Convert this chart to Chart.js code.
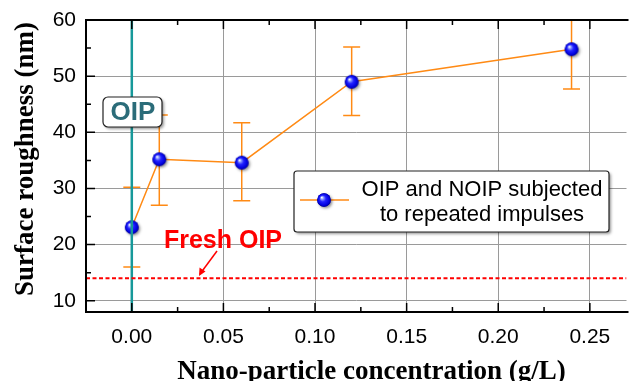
<!DOCTYPE html>
<html>
<head>
<meta charset="utf-8">
<script src="https://cdn.jsdelivr.net/npm/chart.js@4.4.1/dist/chart.umd.min.js"></script>
<style>
  html, body { margin: 0; padding: 0; background: #fff; overflow: hidden; }
  /* the plot runs off the right edge in the original, so the canvas is a bit wider than the window */
  #wrap { width: 630px; height: 381px; overflow: hidden; }
</style>
</head>
<body>
<div id="wrap"><canvas id="roughChart" width="635" height="381"></canvas></div>
<script>
// data
const concentration = [0, 0.015, 0.06, 0.12, 0.24];
const roughness = [23.1, 35.2, 34.6, 49.0, 54.8];
const errUpper = [30.2, 43.1, 41.7, 55.2, 61.9];
const errLower = [16.0, 27.0, 27.8, 43.0, 47.7];
const freshOIP = 14;
const oipX = 0;
const xTicks = [0, 0.05, 0.10, 0.15, 0.20, 0.25];
const yTicks = [10, 20, 30, 40, 50, 60];
const xRange = [-0.025, 0.27];
const yRange = [8, 60];

const ORANGE = '#ff8a14';
const TEAL = '#17999a';
const SANS = '"Liberation Sans", Arial, sans-serif';
const SERIF = '"Liberation Serif", "Times New Roman", serif';

// little blue ball used as the marker
function makeBall() {
  const c = document.createElement('canvas');
  c.width = 22; c.height = 22;
  const g = c.getContext('2d');
  const cx = 11, cy = 11, r = 6.8;
  g.save();
  g.shadowColor = 'rgba(0,0,0,0.45)';
  g.shadowBlur = 3;
  g.shadowOffsetX = 1.5;
  g.shadowOffsetY = 1.5;
  g.beginPath(); g.arc(cx, cy, r, 0, Math.PI * 2);
  g.fillStyle = '#0000c8';
  g.fill();
  g.restore();
  const grad = g.createRadialGradient(cx - 2.3, cy - 2.6, 0.3, cx, cy, r);
  grad.addColorStop(0, '#ffffff');
  grad.addColorStop(0.18, '#8f9dff');
  grad.addColorStop(0.45, '#2222ff');
  grad.addColorStop(0.85, '#0000dd');
  grad.addColorStop(1, '#00008c');
  g.beginPath(); g.arc(cx, cy, r, 0, Math.PI * 2);
  g.fillStyle = grad;
  g.fill();
  return c;
}
const ball = makeBall();

function roundBox(ctx, x, y, w, h, r) {
  ctx.save();
  ctx.shadowColor = 'rgba(0,0,0,0.4)';
  ctx.shadowBlur = 3;
  ctx.shadowOffsetX = 2;
  ctx.shadowOffsetY = 2;
  ctx.beginPath();
  ctx.roundRect(x, y, w, h, r);
  ctx.fillStyle = '#fff';
  ctx.fill();
  ctx.restore();
  ctx.beginPath();
  ctx.roundRect(x, y, w, h, r);
  ctx.strokeStyle = '#222';
  ctx.lineWidth = 1.2;
  ctx.stroke();
}

const decorations = {
  id: 'decorations',
  beforeDatasetsDraw(chart) {
    // error bars
    const { ctx, chartArea: a, scales: { x, y } } = chart;
    ctx.save();
    ctx.beginPath();
    ctx.rect(a.left, a.top, a.right - a.left, a.bottom - a.top);
    ctx.clip();
    ctx.strokeStyle = ORANGE;
    ctx.lineWidth = 1.5;
    concentration.forEach((c, i) => {
      const px = x.getPixelForValue(c);
      const top = y.getPixelForValue(errUpper[i]);
      const bot = y.getPixelForValue(errLower[i]);
      ctx.beginPath();
      ctx.moveTo(px, top); ctx.lineTo(px, bot);
      ctx.moveTo(px - 8.5, top); ctx.lineTo(px + 8.5, top);
      ctx.moveTo(px - 8.5, bot); ctx.lineTo(px + 8.5, bot);
      ctx.stroke();
    });
    ctx.restore();
  },
  afterDraw(chart) {
    const { ctx, chartArea: a, scales: { x, y } } = chart;
    ctx.save();

    // frame: left, bottom, top
    ctx.strokeStyle = '#000';
    ctx.lineWidth = 2;
    ctx.beginPath();
    ctx.moveTo(a.right + 2, a.top); ctx.lineTo(a.left, a.top);
    ctx.lineTo(a.left, a.bottom); ctx.lineTo(a.right + 2, a.bottom);
    ctx.stroke();

    // inward ticks
    ctx.lineWidth = 1.5;
    ctx.beginPath();
    xTicks.forEach((v, i) => {
      const px = x.getPixelForValue(v);
      ctx.moveTo(px, a.bottom); ctx.lineTo(px, a.bottom - 9);
      ctx.moveTo(px, a.top); ctx.lineTo(px, a.top + 9);
      if (i < xTicks.length - 1) {
        const mx = x.getPixelForValue((v + xTicks[i + 1]) / 2);
        ctx.moveTo(mx, a.bottom); ctx.lineTo(mx, a.bottom - 5);
        ctx.moveTo(mx, a.top); ctx.lineTo(mx, a.top + 5);
      }
    });
    yTicks.forEach((v, i) => {
      const py = y.getPixelForValue(v);
      ctx.moveTo(a.left, py); ctx.lineTo(a.left + 9, py);
      if (i < yTicks.length - 1) {
        const my = y.getPixelForValue((v + yTicks[i + 1]) / 2);
        ctx.moveTo(a.left, my); ctx.lineTo(a.left + 5, my);
      }
    });
    ctx.stroke();

    // OIP label box
    roundBox(ctx, 103, 97, 59, 30, 5);
    ctx.fillStyle = '#2b6c79';
    ctx.font = 'bold 26px ' + SANS;
    ctx.textAlign = 'center';
    ctx.textBaseline = 'middle';
    ctx.fillText('OIP', 133, 113);

    // Fresh OIP note + arrow
    ctx.fillStyle = '#ff0000';
    ctx.font = 'bold 25px ' + SANS;
    ctx.textBaseline = 'alphabetic';
    ctx.fillText('Fresh OIP', 223, 248);
    ctx.strokeStyle = '#ff0000';
    ctx.lineWidth = 1.5;
    ctx.beginPath();
    ctx.moveTo(217, 251); ctx.lineTo(200, 274);
    ctx.stroke();
    ctx.beginPath();
    ctx.moveTo(199, 276); ctx.lineTo(199.5, 267.5); ctx.lineTo(205.5, 271.5);
    ctx.closePath();
    ctx.fill();

    // legend
    roundBox(ctx, 294, 171, 315, 61, 3);
    ctx.strokeStyle = ORANGE;
    ctx.lineWidth = 1.5;
    ctx.beginPath();
    ctx.moveTo(300, 200); ctx.lineTo(349, 200);
    ctx.stroke();
    ctx.drawImage(ball, 324 - 11, 200 - 11);
    ctx.fillStyle = '#000';
    ctx.font = '22px ' + SANS;
    ctx.textAlign = 'center';
    ctx.fillText('OIP and NOIP subjected', 482, 196);
    ctx.fillText('to repeated impulses', 482, 221);

    // axis titles
    ctx.font = 'bold 27px ' + SERIF;
    ctx.fillText('Nano-particle concentration (g/L)', 371.5, 379);
    ctx.translate(33, 159);
    ctx.rotate(-Math.PI / 2);
    ctx.fillText('Surface roughness (nm)', 0, 0);

    ctx.restore();
  }
};

const gridStyle = {
  color: '#9a9a9a',
  lineWidth: 1,
  drawTicks: false
};

new Chart(document.getElementById('roughChart'), {
  type: 'line',
  data: {
    datasets: [
      {
        label: 'Fresh OIP',
        data: xRange.map(v => ({ x: v, y: freshOIP })),
        borderColor: '#ff0000',
        borderWidth: 2,
        borderDash: [4, 2.5],
        pointRadius: 0
      },
      {
        label: 'OIP',
        data: yRange.map(v => ({ x: oipX, y: v })),
        borderColor: TEAL,
        borderWidth: 2.5,
        pointRadius: 0
      },
      {
        label: 'OIP and NOIP subjected to repeated impulses',
        data: concentration.map((c, i) => ({ x: c, y: roughness[i] })),
        borderColor: ORANGE,
        borderWidth: 1.5,
        pointStyle: ball,
        pointRadius: 7,
        clip: false
      }
    ]
  },
  options: {
    responsive: false,
    animation: false,
    layout: { padding: { top: 20, right: 0, left: 0, bottom: 0 } },
    plugins: { legend: { display: false }, tooltip: { enabled: false } },
    scales: {
      x: {
        type: 'linear',
        min: xRange[0],
        max: xRange[1],
        afterBuildTicks: s => { s.ticks = xTicks.map(v => ({ value: v })); },
        afterFit: s => { s.height = 69; s.paddingLeft = 0; s.paddingRight = 0; },
        border: { display: false },
        grid: { ...gridStyle },
        ticks: {
          color: '#000',
          font: { family: SANS, size: 21 },
          padding: 13,
          maxRotation: 0,
          callback: v => v.toFixed(2)
        }
      },
      y: {
        min: yRange[0],
        max: yRange[1],
        afterBuildTicks: s => { s.ticks = yTicks.map(v => ({ value: v })); },
        afterFit: s => { s.width = 86; s.paddingTop = 0; s.paddingBottom = 0; },
        border: { display: false },
        grid: gridStyle,
        ticks: {
          color: '#000',
          font: { family: SANS, size: 21 },
          padding: 10
        }
      }
    }
  },
  plugins: [decorations]
});
</script>
</body>
</html>
